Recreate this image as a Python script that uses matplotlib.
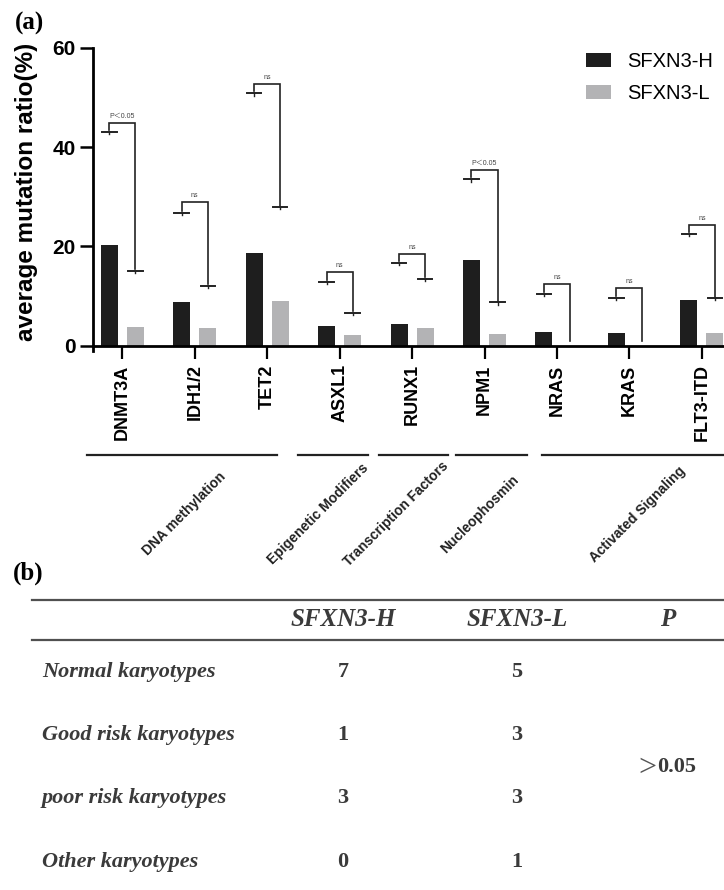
import matplotlib.pyplot as plt
import numpy as np
from matplotlib.lines import Line2D

plt.rcParams['font.family'] = ['Liberation Sans', 'Noto Sans CJK SC']

# ---- data (a) ----
genes = ['DNMT3A', 'IDH1/2', 'TET2', 'ASXL1', 'RUNX1', 'NPM1', 'NRAS', 'KRAS', 'FLT3-ITD']
ratio_h = [20.3, 8.7, 18.7, 4.0, 4.3, 17.3, 2.7, 2.5, 9.3]
ratio_l = [3.7, 3.5, 8.9, 2.1, 3.5, 2.3, 0.0, 0.0, 2.5]
cap_h = [43.0, 26.8, 50.8, 12.8, 16.7, 33.5, 10.5, 9.6, 22.5]
cap_l = [15.1, 12.1, 27.9, 6.6, 13.5, 8.7, 0.0, 0.0, 9.6]
bracket_top = [44.8, 28.9, 52.7, 14.9, 18.5, 35.3, 12.5, 11.6, 24.3]
sig_labels = ['P＜0.05', 'ns', 'ns', 'ns', 'ns', 'P＜0.05', 'ns', 'ns', 'ns']
series = ['SFXN3-H', 'SFXN3-L']

groups = ['DNA methylation', 'Epigenetic Modifiers', 'Transcription Factors',
          'Nucleophosmin', 'Activated Signaling']
group_spans = [(-0.49, 2.13), (2.42, 3.39), (3.54, 4.50), (4.61, 5.58), (5.80, 8.31)]
group_label_x = [0.86, 2.71, 3.78, 4.93, 7.11]

# ---- data (b) ----
col_headers = ['SFXN3-H', 'SFXN3-L', 'P']
karyotypes = ['Normal karyotypes', 'Good risk karyotypes', 'poor risk karyotypes', 'Other karyotypes']
count_h = [7, 1, 3, 0]
count_l = [5, 3, 3, 1]
p_sign, p_value = '>', '0.05'

W, H = 724, 890
fig = plt.figure(figsize=(W / 100, H / 100), dpi=100)

BLACK = '#1e1e1e'
GRAY = '#b3b3b5'
LINE = '#222222'

ax = fig.add_axes([93 / W, 1 - 345.7 / H, 631 / W, 298 / H])
x = np.arange(len(genes))
off, bw = 0.18, 0.235
ax.bar(x - off, ratio_h, bw, color=BLACK, label=series[0])
ax.bar(x + off, ratio_l, bw, color=GRAY, label=series[1])

# significance brackets
for i in range(len(genes)):
    xl, xr = x[i] - off, x[i] + off
    top = bracket_top[i]
    low_end = cap_l[i] + 0.3 if cap_l[i] > 0 else 0.9
    ax.plot([xl, xl, xr, xr], [cap_h[i] + 0.4, top, top, low_end], color=LINE, lw=1.2,
            solid_joinstyle='miter')
    for xc, v in ((xl, cap_h[i]), (xr, cap_l[i])):
        if v > 0:
            ax.plot([xc - 0.1, xc + 0.1], [v, v], color=LINE, lw=1.4)
            ax.plot([xc, xc], [v, v - 0.45], color=LINE, lw=1.0)
    ax.text(x[i], top + 0.6, sig_labels[i], ha='center', va='bottom', fontsize=5,
            color='#444444')

ax.set_xlim(-0.405, 8.306)
ax.set_ylim(0, 60)
ax.set_yticks([0, 20, 40, 60])
for s in ('top', 'right'):
    ax.spines[s].set_visible(False)
for s in ('left', 'bottom'):
    ax.spines[s].set_linewidth(2.0)
ax.tick_params(axis='y', length=9.4, width=1.8, pad=3.0, labelsize=15)
ax.set_xticks(x)
ax.set_xticklabels(genes, rotation=90, fontweight='bold', fontsize=13)
ax.tick_params(axis='x', length=9.4, width=1.6, pad=4)
for lab in ax.get_yticklabels():
    lab.set_fontweight('bold')
ax.set_ylabel('average mutation ratio(%)', fontsize=17.5, fontweight='bold')
ax.yaxis.set_label_coords(-0.087, 0.517)
ax.add_line(Line2D([0, 0], [0, -0.018], transform=ax.transAxes, color='black',
                   lw=2.0, clip_on=False))

# category group lines and labels
trans = ax.get_xaxis_transform()
for name, (a, b), lx in zip(groups, group_spans, group_label_x):
    ax.add_line(Line2D([a, b], [-0.367, -0.367], transform=trans, color=LINE,
                       lw=1.6, clip_on=False))
    ax.text(lx, -0.565, name, transform=trans, rotation=45, ha='center', va='center',
            rotation_mode='anchor', fontsize=10, fontweight='bold', color=LINE)

fig.legend(loc='upper left', bbox_to_anchor=(586 / W, 1 - 52 / H), frameon=False,
           fontsize=14.5, handlelength=1.25, handleheight=0.65, handletextpad=0.8,
           labelspacing=0.65, borderpad=0, borderaxespad=0)

fig.text(15 / W, 1 - 12 / H, '(a)', fontsize=18, fontweight='bold',
         family='Liberation Serif', ha='left', va='top')
fig.text(13 / W, 1 - 562 / H, '(b)', fontsize=18, fontweight='bold',
         family='Liberation Serif', ha='left', va='top')

# ---- table (b) ----
tab = fig.add_axes([0, 0, 1, 1])
tab.set_xlim(0, W)
tab.set_ylim(H, 0)
tab.axis('off')
TXT = '#3a3a3a'
serif = 'Liberation Serif'
for yl in (600, 640):
    tab.plot([32, W], [yl, yl], color='#505050', lw=1.6)
col_x = [343, 517, 668]
for cx, hdr in zip(col_x, col_headers):
    tab.text(cx, 620, hdr, ha='center', va='center', fontsize=18, fontweight='bold',
             style='italic', family=serif, color=TXT)
row_y = [672, 735, 798, 862]
for ry, name, nh, nl in zip(row_y, karyotypes, count_h, count_l):
    tab.text(42, ry, name, ha='left', va='center', fontsize=16, fontweight='bold',
             style='italic', family=serif, color=TXT)
    tab.text(col_x[0], ry, str(nh), ha='center', va='center', fontsize=16,
             fontweight='bold', family=serif, color=TXT)
    tab.text(col_x[1], ry, str(nl), ha='center', va='center', fontsize=16,
             fontweight='bold', family=serif, color=TXT)
py = (row_y[1] + row_y[2]) / 2
tab.text(656, py + 1.5, p_sign, ha='right', va='center', fontsize=23, family=serif,
         color='#555555')
tab.text(657, py, p_value, ha='left', va='center', fontsize=16, fontweight='bold',
         family=serif, color=TXT)

fig.savefig('out.png', dpi=100)
